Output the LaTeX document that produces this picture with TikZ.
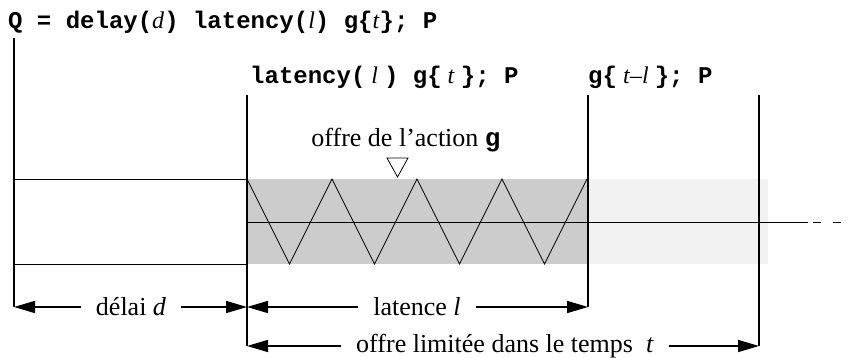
\documentclass[tikz,border=0pt]{standalone}
\usepackage{fontspec}
\setmainfont{Liberation Serif}
\setmonofont{Liberation Mono}
\usetikzlibrary{arrows.meta, positioning}
\definecolor{latgray}{RGB}{204, 204, 204}
\definecolor{offgray}{RGB}{242, 242, 242}
\newcommand{\code}[1]{{\ttfamily\bfseries #1}}

\begin{document}
\begin{tikzpicture}[x=1pt, y=-1pt,
    bar/.style={line width=1.6pt},
    thinline/.style={line width=0.8pt},
    dimarrow/.style={line width=1.6pt, -{Triangle[length=21pt, width=12pt]}},
    codelabel/.style={anchor=base west, inner sep=0pt, font=\fontsize{24}{28}\selectfont},
    dimlabel/.style={inner xsep=15pt, inner ysep=0pt, font=\fontsize{26}{30}\selectfont}
  ]
  \useasboundingbox (0,0) rectangle (850,358);

  % Grey bands
  \fill[latgray] (247,179) rectangle (588,264);
  \fill[offgray] (588,179) rectangle (768,264);

  % Delay box and time line
  \draw[thinline] (14,179) -- (247,179);
  \draw[thinline] (14,264) -- (247,264);
  \draw[thinline] (247,222) -- (808,222);
  \draw[thinline, dash pattern=on 8pt off 12pt] (813,222) -- (842,222);

  % Latency zigzag
  \draw[thinline] (247,179)
    \foreach \i in {0,...,3} { -- ++(42.5,85) -- ++(42.5,-85) };

  % Bars
  \coordinate (d0) at (14,307);
  \coordinate (d1) at (247,307);
  \coordinate (l1) at (588,307);
  \coordinate (t0) at (247,346);
  \coordinate (t1) at (759,346);
  \draw[bar] (14,38) -- (d0);
  \draw[bar] (247,95) -- (t0);
  \draw[bar] (588,95) -- (l1);
  \draw[bar] (759,95) -- (t1);

  % Expressions
  \node[codelabel] (qexpr) at (8,29)
    {\code{Q = delay(}\textit{d}\code{) latency(}\textit{l}\code{) g\{}\textit{t}\code{\}; P}};
  \node[codelabel] (latexpr) at (250,84)
    {\code{latency(} \textit{l} \code{) g\{} \textit{t} \code{\}; P}};
  \node[codelabel] (gexpr) at (588,84)
    {\code{g\{} \textit{t}–\textit{l} \code{\}; P}};

  % Offer of action g
  \node[anchor=base, inner sep=0pt, font=\fontsize{26}{30}\selectfont] (offer) at (406,147)
    {offre de l’action \code{g}};
  \coordinate (tip) at (397.5,177);
  \draw[thinline] (387,158) -- (408,158) -- (tip) -- cycle;

  % Durations
  \node[dimlabel] (delay) at (131,307) {délai \textit{d}};
  \draw[dimarrow] (delay) -- (d0);
  \draw[dimarrow] (delay) -- (d1);
  \node[dimlabel] (lat) at (417,307) {latence \textit{l}};
  \draw[dimarrow] (lat) -- (d1);
  \draw[dimarrow] (lat) -- (l1);
  \node[dimlabel] (limit) at (505,346) {offre limitée dans le temps \ \textit{t}};
  \draw[dimarrow] (limit.west |- t0) -- (t0);
  \draw[dimarrow] (limit.east |- t1) -- (t1);
\end{tikzpicture}
\end{document}
